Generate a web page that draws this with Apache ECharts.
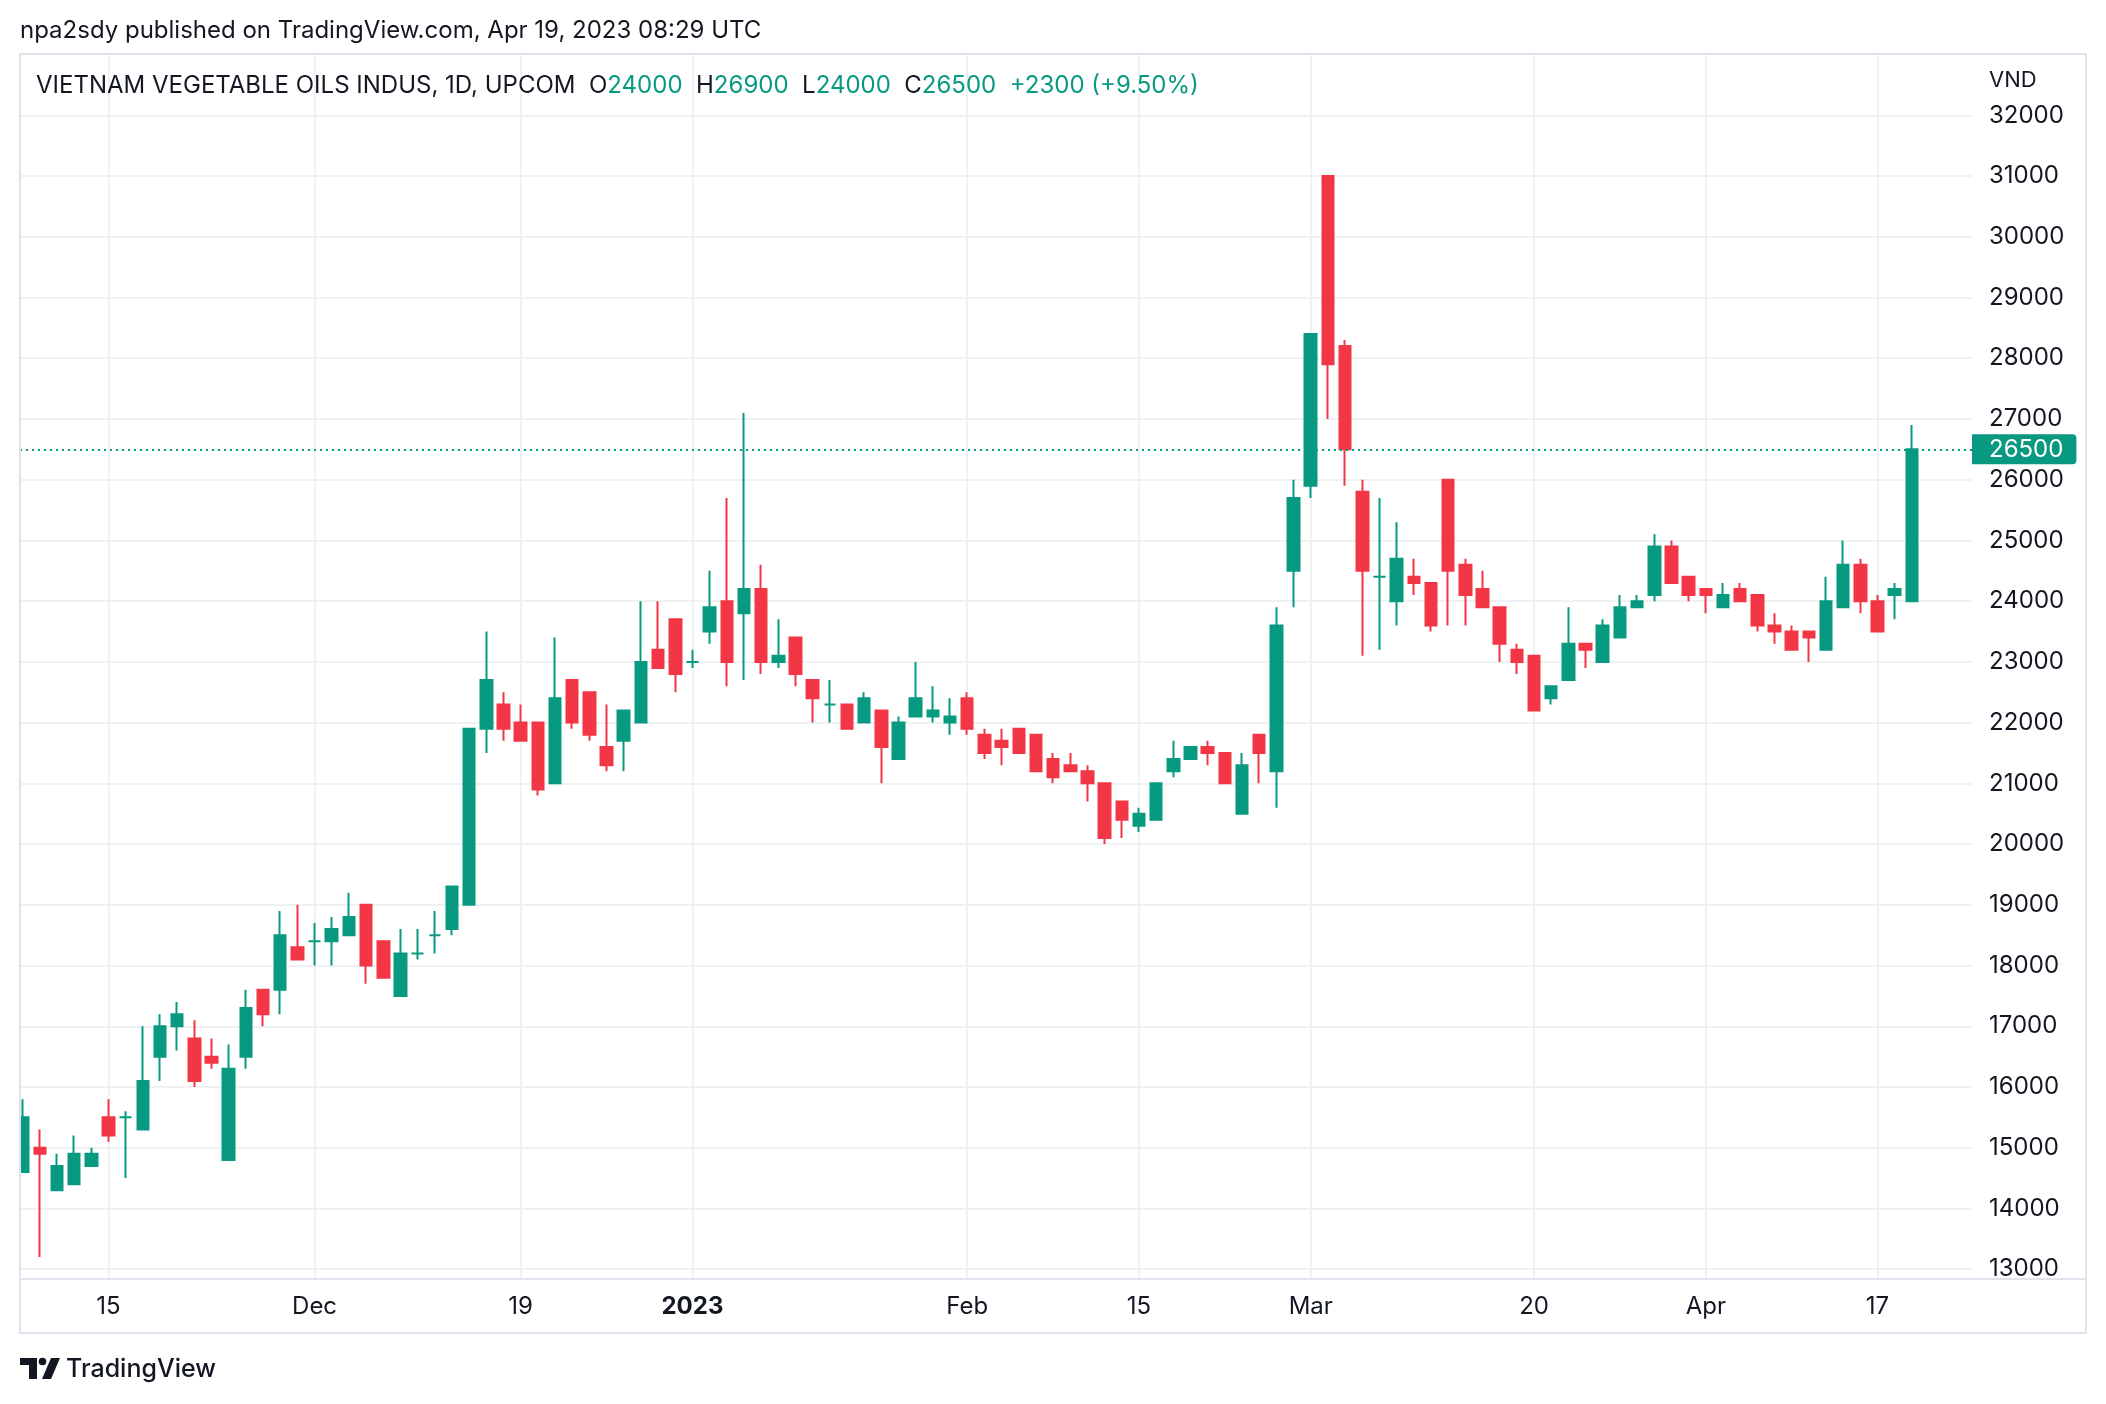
<!DOCTYPE html>
<html>
<head>
<meta charset="utf-8">
<script src="https://cdn.jsdelivr.net/npm/echarts@6/dist/echarts.min.js"></script>
<style>
html,body{margin:0;padding:0;background:#ffffff;}
#c{width:2106px;height:1404px;}
</style>
</head>
<body>
<div id="c"></div>
<script>
// ---------- DATA ----------
const dates = [
 '2022-11-08','2022-11-09','2022-11-10','2022-11-11','2022-11-14','2022-11-15','2022-11-16','2022-11-17','2022-11-18',
 '2022-11-21','2022-11-22','2022-11-23','2022-11-24','2022-11-25','2022-11-28','2022-11-29','2022-11-30',
 '2022-12-01','2022-12-02','2022-12-05','2022-12-06','2022-12-07','2022-12-08','2022-12-09','2022-12-12','2022-12-13',
 '2022-12-14','2022-12-15','2022-12-16','2022-12-19','2022-12-20','2022-12-21','2022-12-22','2022-12-23','2022-12-26',
 '2022-12-27','2022-12-28','2022-12-29','2022-12-30',
 '2023-01-03','2023-01-04','2023-01-05','2023-01-06','2023-01-09','2023-01-10','2023-01-11','2023-01-12','2023-01-13',
 '2023-01-16','2023-01-17','2023-01-18','2023-01-19','2023-01-27','2023-01-30','2023-01-31',
 '2023-02-01','2023-02-02','2023-02-03','2023-02-06','2023-02-07','2023-02-08','2023-02-09','2023-02-10','2023-02-13',
 '2023-02-14','2023-02-15','2023-02-16','2023-02-17','2023-02-20','2023-02-21','2023-02-22','2023-02-23','2023-02-24',
 '2023-02-27','2023-02-28',
 '2023-03-01','2023-03-02','2023-03-03','2023-03-06','2023-03-07','2023-03-08','2023-03-09','2023-03-10','2023-03-13',
 '2023-03-14','2023-03-15','2023-03-16','2023-03-17','2023-03-20','2023-03-21','2023-03-22','2023-03-23','2023-03-24',
 '2023-03-27','2023-03-28','2023-03-29','2023-03-30','2023-03-31',
 '2023-04-03','2023-04-04','2023-04-05','2023-04-06','2023-04-07','2023-04-10','2023-04-11','2023-04-12','2023-04-13',
 '2023-04-14','2023-04-17','2023-04-18','2023-04-19'
];
// empty slots to the right of the last bar (chart right margin)
const padDates = ['2023-04-20','2023-04-21','2023-04-24'];

const opens = [
 14600,15000,14300,14400,14700,15500,15500,15300,16500,17000,16800,16500,14800,16500,17600,17600,18300,18400,18400,18500,
 19000,18400,17500,18200,18500,18600,19000,21900,22300,22000,22000,21000,22700,22500,21600,21700,22000,23200,23700,23000,
 23500,24000,23800,24200,23000,23400,22700,22300,22300,22000,22200,21400,22100,22100,22000,22400,21800,21700,21900,21800,
 21400,21300,21200,21000,20700,20300,20400,21200,21400,21600,21500,20500,21800,21200,24500,25900,31000,28200,25800,24400,
 24000,24400,24300,26000,24600,24200,23900,23200,23100,22400,22700,23300,23000,23400,23900,24100,24900,24400,24200,23900,
 24200,24100,23600,23500,23500,23200,23900,24600,24000,24100,24000
];
const highs = [
 15800,15300,14900,15200,15000,15800,15600,17000,17200,17400,17100,16800,16700,17600,17600,18900,19000,18700,18800,19200,
 19000,18400,18600,18600,18900,19300,21900,23500,22500,22300,22000,23400,22700,22500,22300,22200,24000,24000,23700,23200,
 24500,25700,27100,24600,23700,23400,22700,22700,22300,22500,22200,22100,23000,22600,22400,22500,21900,21900,21900,21800,
 21500,21500,21300,21000,20700,20600,21000,21700,21600,21700,21500,21500,21800,23900,26000,28400,31000,28300,26000,25700,
 25300,24700,24300,26000,24700,24500,23900,23300,23100,22600,23900,23300,23700,24100,24100,25100,25000,24400,24200,24300,
 24300,24100,23800,23600,23500,24400,25000,24700,24100,24300,26900
];
const lows = [
 14600,13200,14300,14400,14700,15100,14500,15300,16100,16600,16000,16300,14800,16300,17000,17200,18100,18000,18000,18500,
 17700,17800,17500,18100,18200,18500,19000,21500,21700,21700,20800,21000,21900,21700,21200,21200,22000,22900,22500,22900,
 23300,22600,22700,22800,22900,22600,22000,22000,21900,22000,21000,21400,22100,22000,21800,21800,21400,21300,21500,21200,
 21000,21200,20700,20000,20100,20200,20400,21100,21400,21300,21000,20500,21000,20600,23900,25700,27000,25900,23100,23200,
 23600,24100,23500,23600,23600,23900,23000,22800,22200,22300,22700,22900,23000,23400,23900,24000,24300,24000,23800,23900,
 24000,23500,23300,23200,23000,23200,23900,23800,23500,23700,24000
];
const closes = [
 15500,14900,14700,14900,14900,15200,15500,16100,17000,17200,16100,16400,16300,17300,17200,18500,18100,18400,18600,18800,
 18000,17800,18200,18200,18500,19300,21900,22700,21900,21700,20900,22400,22000,21800,21300,22200,23000,22900,22800,23000,
 23900,23000,24200,23000,23100,22800,22400,22300,21900,22400,21600,22000,22400,22200,22100,21900,21500,21600,21500,21200,
 21100,21200,21000,20100,20400,20500,21000,21400,21600,21500,21000,21300,21500,23600,25700,28400,27900,26500,24500,24400,
 24700,24300,23600,24500,24100,23900,23300,23000,22200,22600,23300,23200,23600,23900,24000,24900,24300,24100,24100,24100,
 24000,23600,23500,23200,23400,24000,24600,24000,23500,24200,26500
];

// x-axis tick labels (date -> label)
const xTickLabels = {
 '2022-11-15':'15','2022-12-01':'Dec','2022-12-19':'19','2023-01-03':'2023','2023-02-01':'Feb',
 '2023-02-15':'15','2023-03-01':'Mar','2023-03-20':'20','2023-04-03':'Apr','2023-04-17':'17'
};
// y-axis ticks
const yMin = 13000, yMax = 32000, yStep = 1000;

const symbolName = 'VIETNAM VEGETABLE OILS INDUS, 1D, UPCOM';
const headerText = 'npa2sdy published on TradingView.com, Apr 19, 2023 08:29 UTC';

// ---------- STYLE ----------
const UP = '#089981', DOWN = '#F23645', TXT = '#131722', GRID = '#f0f1f3', BORDER = '#e0e3eb';
const FONT = 'Inter';

const allCats = dates.concat(padDates);
const n = dates.length;
const candleData = dates.map((d, i) => {
  const item = { value: [opens[i], closes[i], lows[i], highs[i]] };
  if (opens[i] === closes[i]) {
    item.itemStyle = { color: UP, color0: UP, borderColor: UP, borderColor0: UP };
  }
  return item;
});
const lastO = opens[n-1], lastH = highs[n-1], lastL = lows[n-1], lastC = closes[n-1];
const chg = lastC - closes[n-2];
const chgPct = (chg / closes[n-2] * 100).toFixed(2);

const GL = 14, GR = 134;

const chart = echarts.init(document.getElementById('c'), null, { renderer: 'canvas' });
chart.setOption({
  animation: false,
  backgroundColor: '#ffffff',
  textStyle: { fontFamily: FONT },
  grid: [
    { left: GL, right: GR, top: 115.3, bottom: 1404 - 1269.2 },
    { left: GL, right: GR, top: 54, bottom: 1404 - 1278 }
  ],
  xAxis: [
    { type: 'category', gridIndex: 0, data: allCats, boundaryGap: true, show: false },
    { type: 'category', gridIndex: 1, data: allCats, boundaryGap: true,
      axisLine: { show: false }, axisTick: { show: false }, splitLine: { show: false },
      axisLabel: {
        interval: (idx, val) => Object.prototype.hasOwnProperty.call(xTickLabels, val),
        formatter: (val) => val === '2023-01-03' ? '{b|' + xTickLabels[val] + '}' : (xTickLabels[val] || ''),
        margin: 17, fontSize: 24, color: TXT, fontFamily: FONT,
        rich: { b: { fontWeight: 'bold', fontSize: 24, color: TXT, fontFamily: FONT } }
      }
    }
  ],
  yAxis: [
    { type: 'value', gridIndex: 0, position: 'right', min: yMin, max: yMax, interval: yStep, scale: true,
      axisLine: { show: false }, axisTick: { show: false },
      splitLine: { show: true, lineStyle: { color: GRID, width: 2 } },
      axisLabel: { align: 'left', margin: 17, fontSize: 24, color: TXT, fontFamily: FONT, formatter: (v) => String(v) }
    },
    { type: 'value', gridIndex: 1, min: 0, max: 1, show: false }
  ],
  series: [
    {
      type: 'line', xAxisIndex: 1, yAxisIndex: 1, data: [], z: 1, silent: true,
      markLine: {
        z: 1, silent: true, symbol: ['none', 'none'], animation: false,
        label: { show: false },
        lineStyle: { color: GRID, width: 2, type: 'solid' },
        data: Object.keys(xTickLabels).map(d => ({ xAxis: d }))
      }
    },
    {
      type: 'candlestick', xAxisIndex: 0, yAxisIndex: 0, z: 3,
      data: candleData, barWidth: 12, clip: true,
      itemStyle: { color: UP, color0: DOWN, borderColor: UP, borderColor0: DOWN, borderWidth: 2 },
      markLine: {
        z: 6, silent: true, symbol: ['none', 'none'], animation: false,
        lineStyle: { color: UP, width: 2, type: [2, 4] },
        label: {
          show: true, position: 'end', distance: 0, formatter: String(lastC),
          backgroundColor: UP, color: '#ffffff', fontSize: 24, fontFamily: FONT,
          padding: [4, 13, 2, 17], borderRadius: [0, 4, 4, 0]
        },
        data: [{ yAxis: lastC }]
      }
    }
  ],
  graphic: [
    { type: 'rect', z: 100, shape: { x: 0, y: 54, width: 20, height: 1226 }, style: { fill: '#ffffff' } },
    { type: 'rect', z: 101, shape: { x: 20, y: 54, width: 2066, height: 1279 }, style: { fill: 'none', stroke: BORDER, lineWidth: 2 } },
    { type: 'line', z: 101, shape: { x1: 20, y1: 1279, x2: 2086, y2: 1279 }, style: { stroke: BORDER, lineWidth: 2 } },
    { type: 'text', z: 102, x: 20, y: 31,
      style: { text: headerText, fill: TXT, fontSize: 24, fontFamily: FONT, verticalAlign: 'middle', textVerticalAlign: 'middle' } },
    { type: 'text', z: 102, x: 36, y: 86,
      style: {
        text: '{d|' + symbolName + '}  {d|O}{g|' + lastO + '}  {d|H}{g|' + lastH + '}  {d|L}{g|' + lastL +
              '}  {d|C}{g|' + lastC + '}  {g|' + (chg >= 0 ? '+' : '') + chg + ' (' + (chg >= 0 ? '+' : '') + chgPct + '%)}',
        verticalAlign: 'middle', textVerticalAlign: 'middle',
        fontSize: 24, fontFamily: FONT, fill: TXT,
        rich: {
          d: { fontSize: 24, fontFamily: FONT, fill: TXT, color: TXT },
          g: { fontSize: 24, fontFamily: FONT, fill: UP, color: UP }
        }
      } },
    { type: 'text', z: 102, x: 1989, y: 80,
      style: { text: 'VND', fill: TXT, fontSize: 22, fontFamily: FONT, verticalAlign: 'middle', textVerticalAlign: 'middle' } },
    // TradingView logo
    { type: 'polygon', z: 102, shape: { points: [[20,1358],[37,1358],[37,1379],[29,1379],[29,1365],[20,1365]] }, style: { fill: TXT } },
    { type: 'circle', z: 102, shape: { cx: 42.5, cy: 1361.5, r: 3.8 }, style: { fill: TXT } },
    { type: 'polygon', z: 102, shape: { points: [[51,1358],[60,1358],[51,1379],[42,1379]] }, style: { fill: TXT } },
    { type: 'text', z: 102, x: 66, y: 1369,
      style: { text: 'TradingView', fill: TXT, fontSize: 25, fontWeight: 500, fontFamily: FONT, verticalAlign: 'middle', textVerticalAlign: 'middle' } }
  ]
});
</script>
</body>
</html>
